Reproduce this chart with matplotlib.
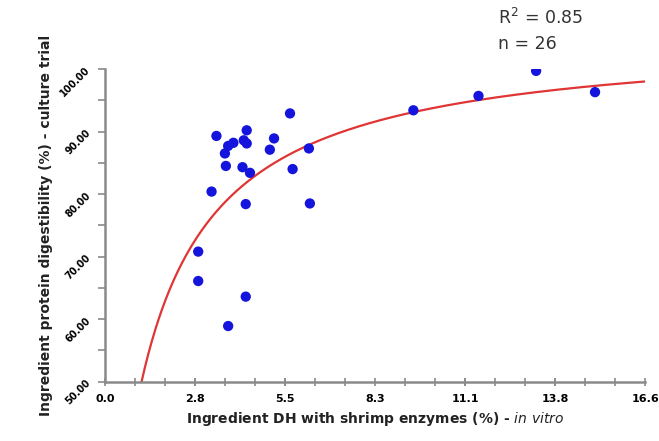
import numpy as np
import matplotlib
matplotlib.use("Agg")
import matplotlib.pyplot as plt
from matplotlib.ticker import FixedLocator, FormatStrFormatter

# Datos
dh_vitro = [3.43, 3.95, 3.79, 3.69, 3.72, 4.36, 4.27, 4.36, 4.23, 4.46,
            5.20, 5.07, 5.69, 6.27, 5.77, 3.28, 4.33, 6.30, 2.87, 2.87,
            4.33, 3.79, 9.48, 11.48, 13.25, 15.06]
digest = [89.3, 88.2, 87.7, 86.5, 84.5, 90.2, 88.6, 88.1, 84.3, 83.4,
          88.9, 87.1, 92.9, 87.3, 84.0, 80.4, 78.4, 78.5, 70.8, 66.1,
          63.6, 58.9, 93.4, 95.7, 99.7, 96.3]

# Ajuste tipo Michaelis-Menten: y = a*x/(b+x)
fit_a = 105.4
fit_b = 1.252

x_ticks = [0.0, 2.77, 5.53, 8.3, 11.07, 13.83, 16.6]
y_ticks = [50, 60, 70, 80, 90, 100]

fig = plt.figure(figsize=(6.59, 4.41), dpi=100)
ax = fig.add_axes([0.159, 0.1345, 0.82, 0.709])

xf = np.linspace(1.13, 16.6, 300)
ax.plot(xf, fit_a * xf / (fit_b + xf), color='#e03535', lw=1.6, zorder=2)
ax.scatter(dh_vitro, digest, s=55, color='#1414dc', zorder=3, edgecolors='none')

ax.set_xlim(0, 16.6)
ax.set_ylim(50, 100)
ax.spines['top'].set_visible(False)
ax.spines['right'].set_visible(False)
for s in ['left', 'bottom']:
    ax.spines[s].set_color('#8a8a8a')
    ax.spines[s].set_linewidth(1.8)

ax.xaxis.set_major_locator(FixedLocator(x_ticks))
ax.xaxis.set_minor_locator(FixedLocator(np.arange(0, 16.7, 16.6 / 18)))
ax.yaxis.set_major_locator(FixedLocator(y_ticks))
ax.yaxis.set_minor_locator(FixedLocator(np.arange(55, 100, 10)))
ax.xaxis.set_major_formatter(FormatStrFormatter('%.1f'))
ax.yaxis.set_major_formatter(FormatStrFormatter('%.2f'))

ax.tick_params(axis='x', which='both', direction='inout', length=6, width=1.2,
               color='#8a8a8a', labelsize=8, pad=6)
ax.tick_params(axis='y', which='both', direction='out', length=5, width=1.2,
               color='#8a8a8a', labelsize=7, pad=4)
for t in ax.get_xticklabels():
    t.set_fontweight('bold')
for t in ax.get_yticklabels():
    t.set_fontweight('bold')
    t.set_rotation(45)

ax.set_xlabel("Ingredient DH with shrimp enzymes (%) - $\\mathbf{\\it{in\\ vitro}}$",
              fontsize=10, fontweight='bold', color='#222222', labelpad=4)
ax.set_ylabel("Ingredient protein digestibility (%) - culture trial",
              fontsize=10, fontweight='bold', color='#222222', labelpad=4)

fig.text(0.755, 0.945, "R$^2$ = 0.85", fontsize=12.5, color='#333333')
fig.text(0.755, 0.89, "n = 26", fontsize=12.5, color='#333333')

fig.savefig("out.png", dpi=100)
